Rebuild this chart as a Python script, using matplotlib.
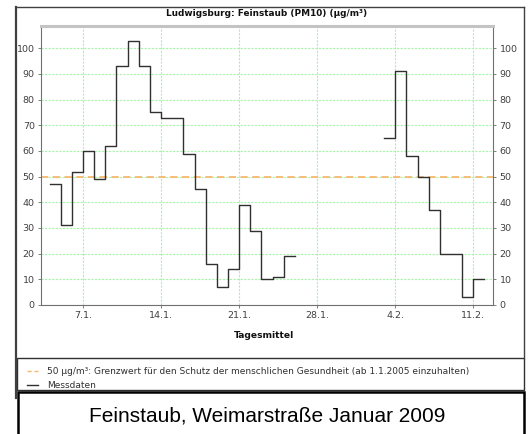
import numpy as np
import matplotlib
matplotlib.use("Agg")
import matplotlib.pyplot as plt
from matplotlib.patches import Rectangle
from matplotlib.lines import Line2D

# ---- data ----
# day number (1 = 1 Jan 2009, 32 = 1 Feb 2009), daily mean PM10 starting that day
days = list(range(4, 44))
values = [47, 31, 52, 60, 49, 62, 93, 103, 93, 75,
          73, 73, 59, 45, 16, 7, 14, 39, 29, 10,
          11, 19,                                   # Jan 4 .. Jan 25
          None, None, None, None, None, None, None, None,  # Jan 26 .. Feb 2 (no data)
          65, 91, 58, 50, 37, 20, 20, 3, 10,          # Feb 3 .. Feb 11
          None]                                     # end of Feb 11 interval
limit_value = 50
xtick_pos = [7, 14, 21, 28, 35, 42]
xtick_labels = ["7.1.", "14.1.", "21.1.", "28.1.", "4.2.", "11.2."]
ytick_pos = [0, 10, 20, 30, 40, 50, 60, 70, 80, 90, 100]

title = "Ludwigsburg: Feinstaub (PM10) (µg/m³)"
xlabel = "Tagesmittel"
legend_limit = "50 µg/m³: Grenzwert für den Schutz der menschlichen Gesundheit (ab 1.1.2005 einzuhalten)"
legend_data = "Messdaten"
caption = "Feinstaub, Weimarstraße Januar 2009"

W, H = 530, 434
fig = plt.figure(figsize=(W / 100, H / 100), dpi=100)
fig.patch.set_facecolor("white")


def fx(px):
    return px / W


def fy(py):
    return 1 - py / H


# plot area in pixels
L, R, T, B = 41, 493.3, 26, 305
ax = fig.add_axes([fx(L), fy(B), fx(R - L), (B - T) / H])

y = np.array([np.nan if v is None else v for v in values], dtype=float)
ax.plot(days, y, drawstyle="steps-post", color="#303030", lw=1.0, zorder=3)
ax.axhline(limit_value, color="#f7b870", lw=1.3, linestyle=(0, (4, 2.5)), zorder=2)

ax.set_xlim(3.23, 43.79)
ax.set_ylim(0, 108.7)
ax.set_xticks(xtick_pos)
ax.set_xticklabels(xtick_labels)
ax.set_yticks(ytick_pos)
ax.grid(True, axis="both", color="#a8f4a8", linestyle=(0, (2, 1.2)), lw=0.8)
ax.tick_params(axis="both", labelsize=6.8, labelcolor="#404040", color="#808080",
               length=2.5, width=0.7, pad=2)
ax.tick_params(axis="y", right=True, labelright=True)
for s in ["left", "bottom", "right"]:
    ax.spines[s].set_color("#707070")
    ax.spines[s].set_linewidth(0.8)
ax.spines["top"].set_color("#c4c4c4")
ax.spines["top"].set_linewidth(2.2)

# title and x label
fig.text(fx(267), fy(14), title, ha="center", va="center", fontsize=6.4,
         fontweight="bold", color="#101010")
fig.text(fx(264), fy(336), xlabel, ha="center", va="center", fontsize=6.6,
         fontweight="bold", color="#101010")

# outer frame of chart image
fig.add_artist(Line2D([fx(16), fx(524)], [fy(7), fy(7)], transform=fig.transFigure,
                      color="#404040", lw=1.0))
fig.add_artist(Line2D([fx(524), fx(524)], [fy(7), fy(358)], transform=fig.transFigure,
                      color="#404040", lw=1.0))
fig.add_artist(Line2D([fx(16), fx(16)], [fy(7), fy(398)], transform=fig.transFigure,
                      color="#404040", lw=1.6))

# legend box
fig.add_artist(Rectangle((fx(17), fy(390)), fx(507), (390 - 358) / H,
                         transform=fig.transFigure, fill=False,
                         edgecolor="#303030", lw=1.0))
fig.add_artist(Line2D([fx(27), fx(38)], [fy(371), fy(371)], transform=fig.transFigure,
                      color="#f7b870", lw=1.0, linestyle=(0, (3, 2))))
fig.add_artist(Line2D([fx(27), fx(38)], [fy(385), fy(385)], transform=fig.transFigure,
                      color="#303030", lw=1.0))
fig.text(fx(47), fy(371), legend_limit, ha="left", va="center", fontsize=6.5,
         color="#303030")
fig.text(fx(47), fy(385), legend_data, ha="left", va="center", fontsize=6.5,
         color="#303030")

# caption box
fig.add_artist(Rectangle((fx(17.5), fy(440)), fx(506), (440 - 392) / H,
                         transform=fig.transFigure, fill=False,
                         edgecolor="#000000", lw=1.8, clip_on=False))
fig.text(fx(267), fy(416), caption, ha="center", va="center", fontsize=15,
         family="Liberation Sans", color="#000000")

fig.savefig("out.png", dpi=100)
